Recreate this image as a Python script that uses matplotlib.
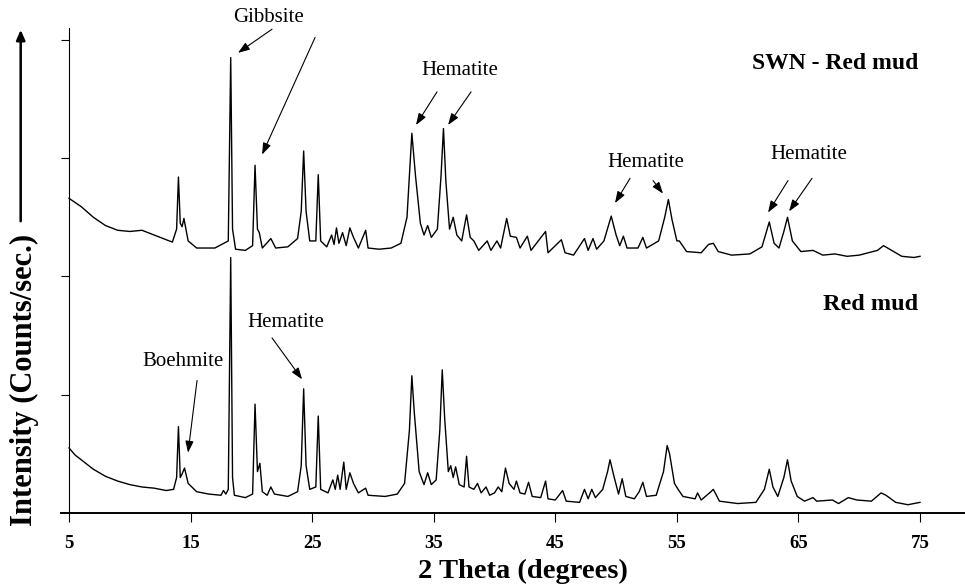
import matplotlib
matplotlib.use("Agg")
import matplotlib.pyplot as plt

plt.rcParams["font.family"] = ["Liberation Serif", "DejaVu Serif"]

# XRD pattern values (2 theta in degrees, intensity in arbitrary units)
two_theta_red = [
    5.0, 5.5, 6.0, 7.0, 8.0, 9.0, 10.0, 11.0, 12.0, 13.0, 13.6, 13.85, 14.0, 14.15, 14.3, 14.5, 14.8,
    15.5, 16.5, 17.5, 17.7, 17.9, 18.1, 18.3, 18.45, 18.6, 19.5, 20.1, 20.3, 20.5, 20.7, 20.9, 21.3,
    21.6, 21.9, 23.0, 23.8, 24.1, 24.3, 24.5, 24.8, 25.3, 25.5, 25.7, 26.3, 26.7, 26.9, 27.1, 27.3,
    27.6, 27.8, 28.1, 28.4, 28.8, 29.4, 29.6, 31.0, 32.0, 32.6, 33.0, 33.2, 33.4, 33.8, 34.2, 34.5,
    34.8, 35.2, 35.5, 35.7, 35.9, 36.2, 36.4, 36.6, 36.8, 37.1, 37.5, 37.7, 37.9, 38.3, 38.6, 38.9,
    39.3, 39.6, 40.0, 40.3, 40.6, 40.9, 41.2, 41.6, 41.8, 42.1, 42.5, 42.8, 43.1, 43.8, 44.2, 44.4,
    45.0, 45.6, 45.9, 47.0, 47.4, 47.7, 48.0, 48.3, 48.9, 49.3, 49.5, 49.8, 50.2, 50.5, 50.8, 51.5,
    51.9, 52.2, 52.5, 53.3, 53.9, 54.2, 54.4, 54.8, 55.1, 55.5, 56.5, 56.7, 57.0, 57.8, 58.0, 58.5,
    60.0, 61.5, 62.2, 62.6, 62.9, 63.3, 63.8, 64.1, 64.4, 64.9, 65.5, 66.2, 66.5, 67.8, 68.3, 69.1,
    69.8, 71.0, 71.8, 72.2, 73.0, 74.0, 75.0,
]
intensity_red = [
    0.55, 0.49, 0.45, 0.37, 0.31, 0.27, 0.24, 0.22, 0.21, 0.19, 0.20, 0.30, 0.73, 0.30, 0.33, 0.38, 0.25,
    0.18, 0.16, 0.15, 0.19, 0.16, 0.20, 2.16, 0.30, 0.15, 0.13, 0.16, 0.92, 0.35, 0.42, 0.18, 0.15,
    0.22, 0.16, 0.14, 0.18, 0.40, 1.05, 0.40, 0.20, 0.22, 0.82, 0.20, 0.17, 0.28, 0.20, 0.32, 0.20,
    0.43, 0.20, 0.34, 0.25, 0.17, 0.21, 0.15, 0.14, 0.16, 0.25, 0.70, 1.16, 0.85, 0.35, 0.24, 0.34,
    0.24, 0.28, 0.70, 1.21, 0.80, 0.35, 0.40, 0.30, 0.39, 0.24, 0.22, 0.48, 0.22, 0.20, 0.25, 0.17,
    0.22, 0.15, 0.17, 0.22, 0.18, 0.38, 0.25, 0.20, 0.27, 0.17, 0.16, 0.26, 0.14, 0.13, 0.27, 0.12,
    0.11, 0.19, 0.10, 0.09, 0.20, 0.12, 0.20, 0.13, 0.20, 0.35, 0.45, 0.32, 0.16, 0.29, 0.14, 0.12,
    0.18, 0.26, 0.14, 0.15, 0.35, 0.57, 0.50, 0.25, 0.20, 0.14, 0.12, 0.17, 0.11, 0.18, 0.20, 0.10,
    0.08, 0.09, 0.20, 0.37, 0.22, 0.14, 0.30, 0.45, 0.27, 0.14, 0.10, 0.13, 0.10, 0.11, 0.08, 0.13,
    0.11, 0.10, 0.17, 0.15, 0.09, 0.07, 0.09,
]

two_theta_swn = [
    5.0, 6.0, 7.0, 8.0, 9.0, 10.0, 11.0, 12.0, 13.0, 13.5, 13.85, 14.0, 14.15, 14.3, 14.45, 14.8,
    15.5, 17.0, 18.1, 18.3, 18.45, 18.7, 19.5, 20.1, 20.3, 20.5, 20.65, 20.9, 21.6, 22.0, 23.0, 23.8,
    24.1, 24.3, 24.5, 24.8, 25.3, 25.5, 25.7, 26.2, 26.6, 26.8, 27.0, 27.2, 27.5, 27.8, 28.1, 28.4,
    28.8, 29.4, 29.6, 30.5, 31.5, 32.3, 32.8, 33.2, 33.5, 33.9, 34.2, 34.5, 34.8, 35.3, 35.6, 35.8,
    36.0, 36.3, 36.6, 36.9, 37.3, 37.7, 38.0, 38.3, 38.7, 39.4, 39.7, 40.2, 40.5, 41.0, 41.3, 41.8,
    42.1, 42.7, 43.0, 44.2, 44.4, 45.5, 45.8, 46.5, 47.4, 47.7, 48.1, 48.4, 49.0, 49.6, 50.0, 50.3,
    50.6, 50.9, 51.8, 52.2, 52.5, 53.5, 54.0, 54.3, 54.6, 55.0, 55.2, 55.8, 57.0, 57.6, 58.0, 58.4,
    59.5, 61.0, 62.0, 62.6, 63.0, 63.4, 63.8, 64.1, 64.5, 65.2, 66.2, 67.0, 68.0, 69.0, 70.0, 71.5,
    72.0, 72.5, 73.5, 74.5, 75.0,
]
intensity_swn = [
    2.66, 2.59, 2.50, 2.43, 2.39, 2.38, 2.39, 2.35, 2.31, 2.29, 2.40, 2.84, 2.45, 2.42, 2.49, 2.30,
    2.24, 2.24, 2.30, 3.85, 2.40, 2.23, 2.22, 2.26, 2.94, 2.40, 2.37, 2.24, 2.32, 2.24, 2.25, 2.32,
    2.55, 3.06, 2.55, 2.30, 2.30, 2.86, 2.30, 2.25, 2.35, 2.27, 2.41, 2.28, 2.37, 2.26, 2.41, 2.33,
    2.24, 2.39, 2.24, 2.23, 2.24, 2.28, 2.50, 3.21, 2.85, 2.45, 2.35, 2.43, 2.33, 2.40, 2.85, 3.25,
    2.80, 2.40, 2.50, 2.35, 2.30, 2.52, 2.33, 2.30, 2.22, 2.30, 2.22, 2.30, 2.24, 2.49, 2.34, 2.33,
    2.24, 2.34, 2.22, 2.38, 2.20, 2.31, 2.20, 2.18, 2.32, 2.22, 2.32, 2.23, 2.30, 2.51, 2.35, 2.26,
    2.34, 2.24, 2.24, 2.33, 2.24, 2.30, 2.50, 2.65, 2.48, 2.30, 2.30, 2.21, 2.20, 2.27, 2.28, 2.21,
    2.18, 2.19, 2.25, 2.46, 2.28, 2.24, 2.38, 2.50, 2.30, 2.21, 2.22, 2.18, 2.19, 2.17, 2.18, 2.22,
    2.26, 2.23, 2.17, 2.16, 2.17,
]

x_ticks = [5, 15, 25, 35, 45, 55, 65, 75]
y_ticks = [1, 2, 3, 4]

fig = plt.figure(figsize=(9.65, 5.85), dpi=100)
ax = fig.add_axes([61 / 965, 72 / 585, 904 / 965, 485 / 585])

ax.plot(two_theta_red, intensity_red, color="black", linewidth=1.0)
ax.plot(two_theta_swn, intensity_swn, color="black", linewidth=1.0)

ax.set_xlim(4.34, 78.7)
ax.set_ylim(0, 4.1)

ax.spines["top"].set_visible(False)
ax.spines["right"].set_visible(False)
ax.spines["left"].set_position(("data", 5))
ax.spines["left"].set_linewidth(0.8)
ax.spines["bottom"].set_linewidth(1.4)

ax.set_xticks(x_ticks)
ax.set_xticklabels([str(t) for t in x_ticks], fontsize=13.5, fontweight="bold")
ax.tick_params(axis="x", direction="out", length=6.5, width=0.8, pad=9)
ax.set_yticks(y_ticks)
ax.set_yticklabels([])
ax.tick_params(axis="y", direction="out", length=5.8, width=0.8)

# axis labels and the intensity arrow
fig.text(523 / 965, 1 - 571 / 585, "2 Theta (degrees)", fontsize=20.5, fontweight="bold",
         ha="center", va="center")
fig.text(24 / 965, 1 - 380 / 585, "Intensity (Counts/sec.)", fontsize=22, fontweight="bold",
         rotation=90, ha="center", va="center")
fig.add_artist(plt.matplotlib.patches.FancyArrowPatch(
    (20.7 / 965, 1 - 224 / 585), (20.7 / 965, 1 - 27 / 585), transform=fig.transFigure,
    arrowstyle="-|>,head_length=6,head_width=2.6", color="black", linewidth=1.8))

# sample labels
ax.text(74.84, 3.80, "SWN - Red mud", fontsize=17, fontweight="bold", ha="right", va="center")
ax.text(74.84, 1.76, "Red mud", fontsize=17.5, fontweight="bold", ha="right", va="center")

arrow = dict(arrowstyle="-|>,head_length=0.7,head_width=0.25", color="black", linewidth=0.8,
             shrinkA=0, shrinkB=0)

# phase labels: text position, then (tail, head) of each arrow
ax.text(21.37, 4.19, "Gibbsite", fontsize=15, ha="center", va="center", clip_on=False)
ax.annotate("", xy=(18.90, 3.89), xytext=(21.70, 4.09), arrowprops=arrow, annotation_clip=False)
ax.annotate("", xy=(20.88, 3.03), xytext=(25.24, 4.02), arrowprops=arrow)

ax.text(37.16, 3.74, "Hematite", fontsize=15, ha="center", va="center")
ax.annotate("", xy=(33.54, 3.28), xytext=(35.27, 3.56), arrowprops=arrow)
ax.annotate("", xy=(36.18, 3.28), xytext=(38.07, 3.56), arrowprops=arrow)

ax.text(52.46, 2.96, "Hematite", fontsize=15, ha="center", va="center")
ax.annotate("", xy=(49.91, 2.62), xytext=(51.15, 2.83), arrowprops=arrow)
ax.annotate("", xy=(53.86, 2.70), xytext=(53.04, 2.81), arrowprops=arrow)

ax.text(65.87, 3.03, "Hematite", fontsize=15, ha="center", va="center")
ax.annotate("", xy=(62.50, 2.54), xytext=(64.14, 2.81), arrowprops=arrow)
ax.annotate("", xy=(64.23, 2.55), xytext=(66.12, 2.83), arrowprops=arrow)

ax.text(14.38, 1.28, "Boehmite", fontsize=15, ha="center", va="center")
ax.annotate("", xy=(14.79, 0.51), xytext=(15.53, 1.12), arrowprops=arrow)

ax.text(22.85, 1.61, "Hematite", fontsize=15, ha="center", va="center")
ax.annotate("", xy=(24.17, 1.13), xytext=(21.70, 1.48), arrowprops=arrow)

fig.savefig("out.png", dpi=100)
